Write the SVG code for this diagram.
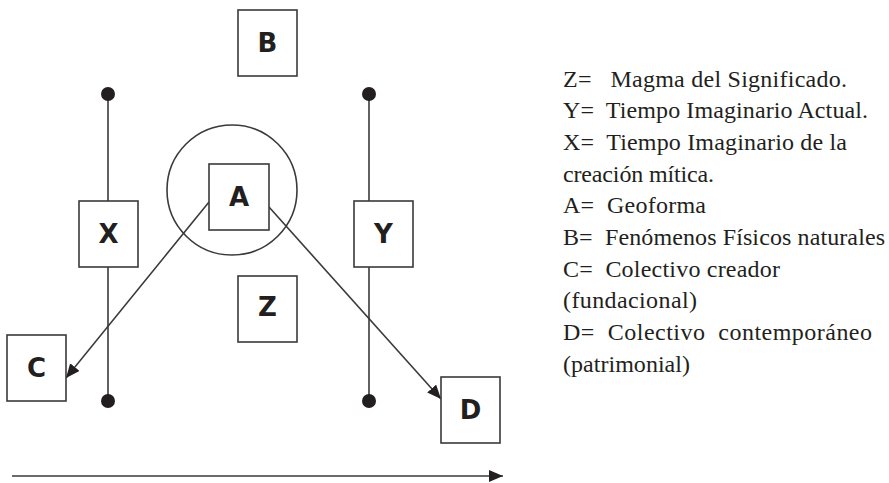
<svg xmlns="http://www.w3.org/2000/svg" width="889" height="483" viewBox="0 0 889 483">
<style>
.box{fill:#fff;stroke:#3a3a3a;stroke-width:1.6}
.lbl{font-family:"DejaVu Sans",Verdana,sans-serif;font-weight:bold;font-size:26px;fill:#231f20;text-anchor:middle}
.ln{stroke:#3a3a3a;stroke-width:1.6;fill:none}
.dot{fill:#231f20}
.leg{font-family:"Liberation Serif","Times New Roman",serif;font-size:24px;fill:#231f20;white-space:pre}
</style>
<defs>
<marker id="ah" markerUnits="userSpaceOnUse" markerWidth="16" markerHeight="14" refX="14" refY="6" orient="auto">
<path d="M0,0 L14,6 L0,12 z" fill="#231f20"/>
</marker>
</defs>
<rect width="889" height="483" fill="#fff"/>
<g id="connectors">
<circle class="ln" cx="232" cy="190" r="65"/>
<line class="ln" x1="108" y1="94" x2="108" y2="201"/>
<line class="ln" x1="108" y1="267" x2="108" y2="401"/>
<circle class="dot" cx="108" cy="94" r="7"/>
<circle class="dot" cx="108" cy="401" r="7"/>
<line class="ln" x1="369" y1="94" x2="369" y2="201"/>
<line class="ln" x1="369" y1="267" x2="369" y2="401"/>
<circle class="dot" cx="369" cy="94" r="7"/>
<circle class="dot" cx="369" cy="401" r="7"/>
<line class="ln" x1="209" y1="202" x2="66" y2="378" marker-end="url(#ah)"/>
<line class="ln" x1="269" y1="207" x2="441" y2="399" marker-end="url(#ah)"/>
<line class="ln" x1="12" y1="476" x2="503" y2="476" stroke-width="2" marker-end="url(#ah)"/>
</g>
<g id="node-B"><rect class="box" x="238" y="10" width="59" height="66"/><text class="lbl" x="267.5" y="52">B</text></g>
<g id="node-A"><rect class="box" x="209" y="164" width="60" height="66"/><text class="lbl" x="239" y="206">A</text></g>
<g id="node-X"><rect class="box" x="79" y="201" width="59" height="66"/><text class="lbl" x="108.5" y="243">X</text></g>
<g id="node-Y"><rect class="box" x="354" y="201" width="59" height="66"/><text class="lbl" x="383.5" y="243">Y</text></g>
<g id="node-Z"><rect class="box" x="238" y="276" width="59" height="66"/><text class="lbl" x="267.5" y="316">Z</text></g>
<g id="node-C"><rect class="box" x="7" y="335" width="59" height="66"/><text class="lbl" x="36.5" y="377">C</text></g>
<g id="node-D"><rect class="box" x="441" y="377" width="59" height="66"/><text class="lbl" x="470.5" y="419">D</text></g>
<g id="legend">
<text class="leg" x="563" y="86.7" textLength="284" lengthAdjust="spacing">Z=   Magma del Significado.</text>
<text class="leg" x="563" y="118.4" textLength="305" lengthAdjust="spacing">Y=  Tiempo Imaginario Actual.</text>
<text class="leg" x="563" y="150" textLength="284" lengthAdjust="spacing">X=  Tiempo Imaginario de la</text>
<text class="leg" x="563" y="181.7" textLength="151" lengthAdjust="spacing">creación mítica.</text>
<text class="leg" x="563" y="213.4" textLength="143" lengthAdjust="spacing">A=  Geoforma</text>
<text class="leg" x="563" y="245" textLength="322" lengthAdjust="spacing">B=  Fenómenos Físicos naturales</text>
<text class="leg" x="563" y="276.7" textLength="217" lengthAdjust="spacing">C=  Colectivo creador</text>
<text class="leg" x="563" y="308.4" textLength="134" lengthAdjust="spacing">(fundacional)</text>
<text class="leg" x="563" y="340" textLength="309" lengthAdjust="spacing">D=  Colectivo  contemporáneo</text>
<text class="leg" x="563" y="371.7" textLength="127" lengthAdjust="spacing">(patrimonial)</text>
</g>
</svg>
